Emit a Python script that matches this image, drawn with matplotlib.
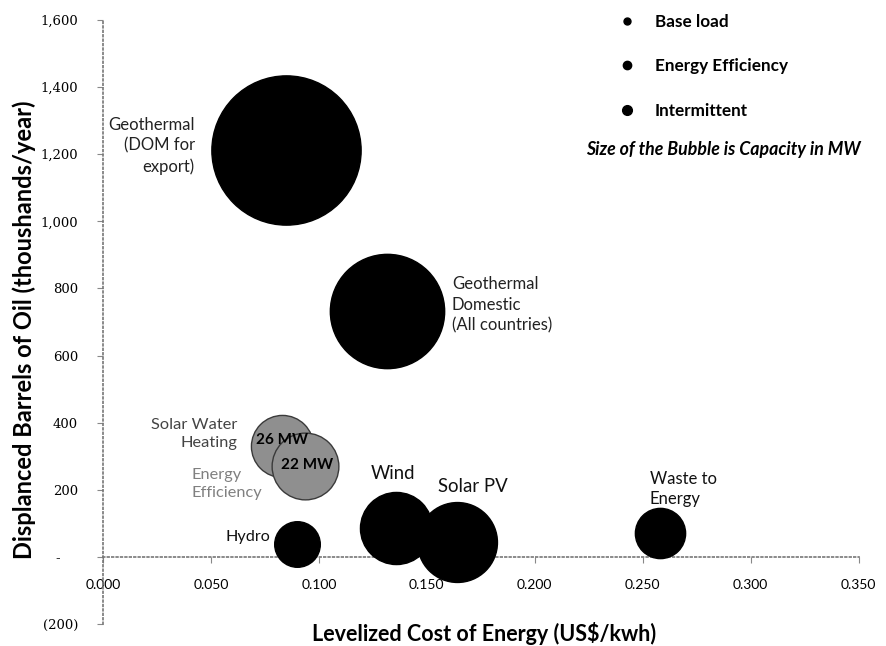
import matplotlib
matplotlib.use("Agg")
import matplotlib.pyplot as plt
from matplotlib.lines import Line2D


# ================================
# Data
# ================================
projects = ["Geothermal (DOM for export)", "Geothermal Domestic", "Solar Water Heating",
            "Energy Efficiency", "Hydro", "Wind", "Solar PV", "Waste to Energy"]
cost_usd_kwh = [0.085, 0.1315, 0.083, 0.0935, 0.090, 0.1356, 0.164, 0.258]
barrels_k = [1212, 734, 330, 272, 39, 87, 45, 72]
capacity_mw = [150, 88, 26, 30, 14, 35, 43, 17]
category = ["Base load", "Base load", "Energy Efficiency", "Energy Efficiency",
            "Base load", "Intermittent", "Intermittent", "Base load"]

series = ["Base load", "Energy Efficiency", "Intermittent"]
series_colors = {"Base load": "black", "Energy Efficiency": "#8f8f8f", "Intermittent": "black"}

x_ticks = [0.0, 0.05, 0.10, 0.15, 0.20, 0.25, 0.30, 0.35]
x_tick_labels = ["0.000", "0.050", "0.100", "0.150", "0.200", "0.250", "0.300", "0.350"]
y_ticks = [-200, 0, 200, 400, 600, 800, 1000, 1200, 1400, 1600]
y_tick_labels = ["(200)", "-    ", "200", "400", "600", "800", "1,000", "1,200", "1,400", "1,600"]

# label text, anchor (x, y), alignment, colour, size
bubble_labels = [
    ("Geothermal\n(DOM for\nexport)", 0.0426, 1225, "right", "#222222", 12),
    ("Geothermal\nDomestic\n(All countries)", 0.1616, 751, "left", "#222222", 12),
    ("Solar Water\nHeating", 0.0625, 367, "right", "#444444", 11.8),
    ("Energy\nEfficiency", 0.0412, 218, "left", "#808080", 11.8),
    ("Hydro", 0.0773, 60, "right", "#111111", 11.6),
    ("Wind", 0.1343, 250, "center", "#111111", 13.4),
    ("Solar PV", 0.1713, 209, "center", "#111111", 13.4),
    ("Waste to\nEnergy", 0.2532, 203, "left", "#111111", 12),
]
mw_labels = [("26 MW", 0.0829, 349), ("22 MW", 0.0945, 274)]

SIZE_SCALE = 77  # points^2 per MW

plt.rcParams["font.family"] = ["Lato", "DejaVu Sans"]

fig = plt.figure(figsize=(8.87, 6.46), dpi=100)
ax = fig.add_axes([0.116, 0.034, 0.852, 0.935])

for i in range(len(projects)):
    col = series_colors[category[i]]
    edge = "#3a3a3a" if category[i] == "Energy Efficiency" else "black"
    ax.scatter(cost_usd_kwh[i], barrels_k[i], s=capacity_mw[i] * SIZE_SCALE,
               color=col, edgecolors=edge, linewidths=1, zorder=3)

for text, x, y, ha, c, fs in bubble_labels:
    ax.text(x, y, text, ha=ha, va="center", color=c, fontsize=fs, linespacing=1.35, zorder=4)

for text, x, y in mw_labels:
    ax.text(x, y, text, ha="center", va="center", fontsize=11, fontweight="bold",
            color="black", zorder=5)

# axes
ax.set_xlim(0, 0.35)
ax.set_ylim(-200, 1600)
ax.set_xticks(x_ticks)
ax.set_xticklabels(x_tick_labels, fontfamily="DejaVu Serif", fontsize=9.5)
ax.set_yticks(y_ticks)
ax.set_yticklabels(y_tick_labels, fontfamily="DejaVu Serif", fontsize=9.5)
ax.tick_params(axis="y", length=4, width=0.8, color="#888888", pad=14)
ax.tick_params(axis="x", length=4, width=0.8, color="#888888", pad=12)

for side in ["top", "right"]:
    ax.spines[side].set_visible(False)
ax.spines["bottom"].set_position(("data", 0))
for side in ["left", "bottom"]:
    ax.spines[side].set_linestyle(":")
    ax.spines[side].set_color("#777777")
    ax.spines[side].set_linewidth(1.2)

ax.set_xlabel("Levelized Cost of Energy (US$/kwh)", fontsize=15.5, fontweight="bold")
ax.xaxis.set_label_coords(0.505, 0.004)
ax.set_ylabel("Displanced Barrels of Oil (thoushands/year)", fontsize=17, fontweight="bold")
ax.yaxis.set_label_coords(-0.088, 0.488)

# legend
handles = [Line2D([], [], marker="o", linestyle="", color="black", markersize=ms)
           for s, ms in zip(series, [5, 6, 7])]
leg = ax.legend(handles, series, loc="upper left", bbox_to_anchor=(0.66, 1.035), frameon=False,
                labelspacing=1.65, handletextpad=1.0, handlelength=1.2,
                prop={"family": "Lato", "weight": "bold", "size": 12.3})

ax.text(1.003, 0.785, "Size of the Bubble is Capacity in MW", transform=ax.transAxes,
        ha="right", va="center", fontsize=12.8, fontweight="bold", fontstyle="italic")

fig.savefig("out.png", dpi=100)
